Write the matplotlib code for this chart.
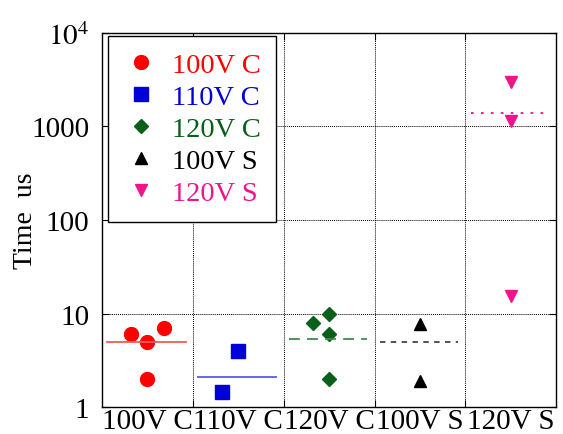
import numpy as np
import matplotlib
matplotlib.use('Agg')
import matplotlib.pyplot as plt
from matplotlib.ticker import FixedLocator, NullFormatter, FixedFormatter

plt.rcParams['font.family'] = ['Liberation Serif', 'DejaVu Serif']
plt.rcParams['mathtext.fontset'] = 'stix'

# ---------------------------- data ----------------------------#
categories = ['100V C', '110V C', '120V C', '100V S', '120V S']

# (offset within category, value)
x_100c = [-0.18, 0.0, 0.18, 0.0]
y_100c = [6, 5, 7, 2]
x_110c = [0.0, -0.18]
y_110c = [4, 1.45]
x_120c = [-0.18, 0.0, 0.0, 0.0]
y_120c = [8, 10, 6, 2]
x_100s = [0.0, 0.0]
y_100s = [7.7, 1.9]
x_120s = [0.0, 0.0, 0.0]
y_120s = [3000, 1150, 15.5]

# average lines per category
line_vals = [5.0, 2.1, 5.4, 5.0, 1400]

y_ticks = [1, 10, 100, 1000, 10000]
y_tick_labels = ['1', '10', '100', '1000', r'$10^4$']

# ---------------------------- style ----------------------------#
series = [
    (x_100c, y_100c, 'o', '#ff0000', '#f05a5a', '-', 10),
    (x_110c, y_110c, 's', '#0000d8', '#5a5ae6', '-', 9.5),
    (x_120c, y_120c, 'D', '#0a5f1a', '#3f8a50', (0, (6, 4)), 7.5),
    (x_100s, y_100s, '^', '#000000', '#444444', (0, (3, 3)), 9),
    (x_120s, y_120s, 'v', '#f0148c', '#f0148c', (0, (1.5, 4)), 9),
]
FS = 21

fig = plt.figure(figsize=(5.63, 4.35), dpi=100)
ax = fig.add_axes([0.181, 0.062, 0.807, 0.860])

for i, (xo, yv, mk, col, lcol, ls, ms) in enumerate(series):
    pos = i + 1
    ax.plot(np.array(xo) + pos, yv, linestyle='none', marker=mk, color=col,
            markersize=ms, label=categories[i])
    ax.plot([pos - 0.44, pos + 0.42], [line_vals[i], line_vals[i]],
            color=lcol, linestyle=ls, linewidth=1.3)

ax.set_yscale('log')
ax.set_ylim(1, 10000)
ax.set_xlim(0.5, 5.5)

ax.yaxis.set_major_locator(FixedLocator(y_ticks))
ax.yaxis.set_major_formatter(FixedFormatter(y_tick_labels))
ax.yaxis.set_minor_locator(FixedLocator([]))

ax.xaxis.set_major_locator(FixedLocator([1.5, 2.5, 3.5, 4.5]))
ax.xaxis.set_major_formatter(NullFormatter())
ax.xaxis.set_minor_locator(FixedLocator([1, 2, 3, 4, 5]))
ax.xaxis.set_minor_formatter(FixedFormatter(categories))

ax.tick_params(axis='both', which='major', direction='in', length=5,
               top=True, right=True, labelsize=FS)
ax.tick_params(axis='x', which='minor', length=0, labelsize=FS, pad=1)
ax.tick_params(axis='y', which='major', pad=9)

ax.grid(True, which='major', linestyle=(0, (1, 1)), color='black', linewidth=0.7)
for s in ax.spines.values():
    s.set_linewidth(1.0)

ax.set_ylabel('Time  us', fontsize=FS - 1, labelpad=-5)

leg = ax.legend(loc='upper left', bbox_to_anchor=(0.013, 0.992), fontsize=FS - 0.5,
                frameon=True, fancybox=False, edgecolor='black',
                framealpha=1, handlelength=1.25, handletextpad=0.45,
                labelspacing=0.22, borderpad=0.55, borderaxespad=0.0)
leg.get_frame().set_linewidth(1.0)
for txt, (_, _, _, col, _, _, _) in zip(leg.get_texts(), series):
    txt.set_color(col)

fig.savefig('out.png', dpi=100)
